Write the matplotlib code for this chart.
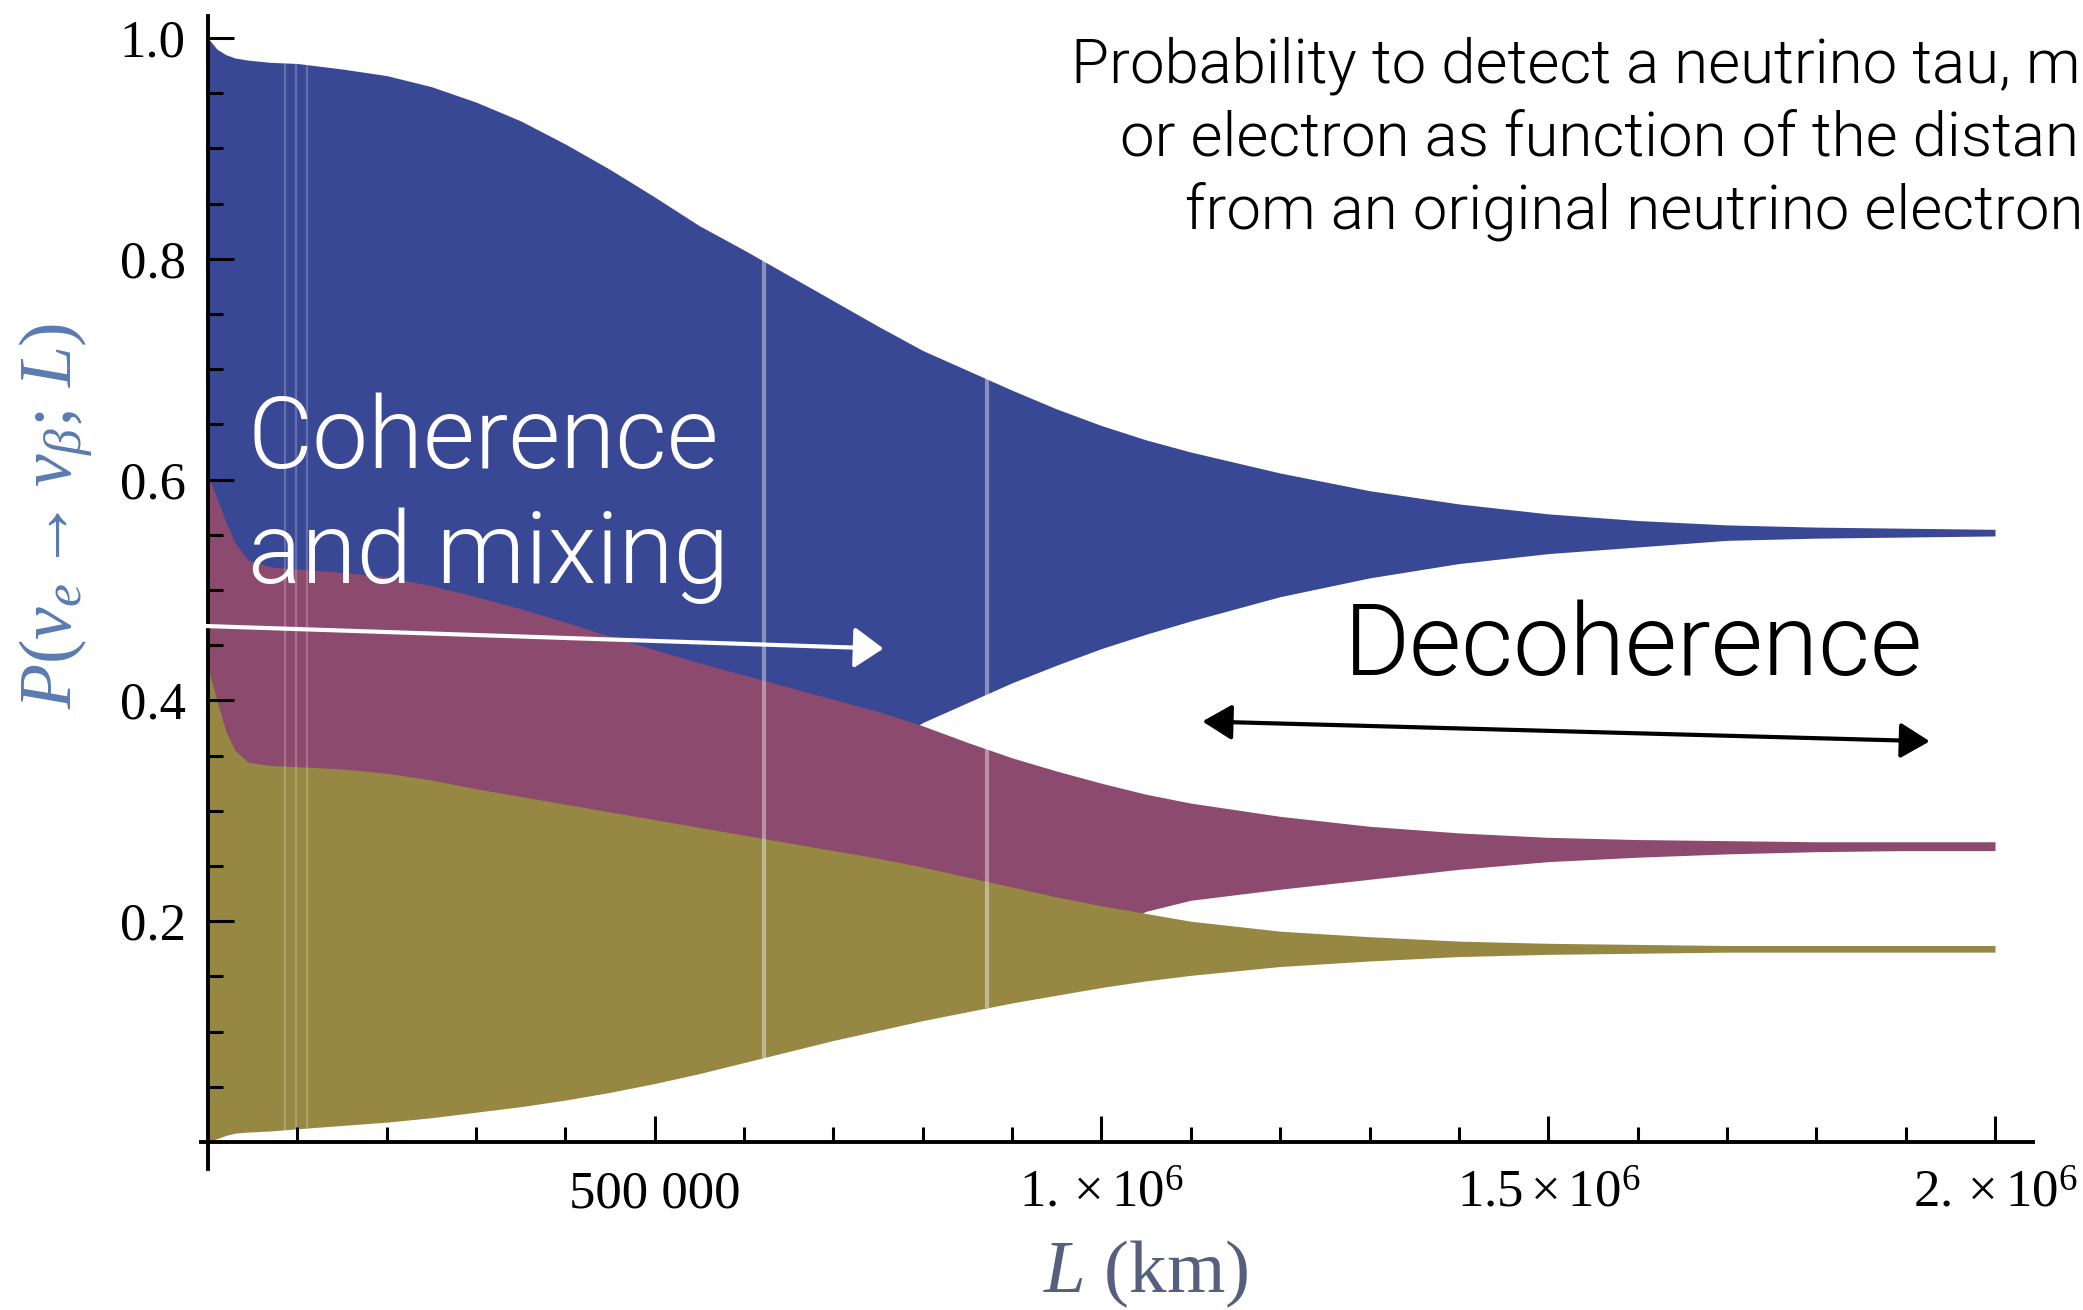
import numpy as np
import matplotlib
matplotlib.use("Agg")
import matplotlib.pyplot as plt
from matplotlib import font_manager as fm

# ---------------- data ----------------
L_km = [0, 10000, 20000, 30000, 45000, 70000, 100000, 150000, 200000, 250000,
        300000, 350000, 400000, 450000, 500000, 550000, 600000, 650000, 700000,
        750000, 800000, 850000, 900000, 950000, 1000000, 1050000, 1100000,
        1200000, 1300000, 1400000, 1500000, 1600000, 1700000, 1800000, 1900000,
        2000000]

# nu_e -> nu_e (blue) envelope
p_ee_max = [1.000, 0.990, 0.985, 0.982, 0.980, 0.978, 0.977, 0.972, 0.966, 0.956,
            0.942, 0.925, 0.904, 0.881, 0.856, 0.830, 0.808, 0.785, 0.762,
            0.739, 0.717, 0.699, 0.681, 0.664, 0.649, 0.636, 0.625,
            0.606, 0.590, 0.578, 0.569, 0.563, 0.559, 0.557, 0.556, 0.555]
p_ee_min = [0.400, 0.400, 0.400, 0.400, 0.400, 0.400, 0.400, 0.400, 0.400, 0.400,
            0.400, 0.400, 0.390, 0.380, 0.370, 0.360, 0.360, 0.355, 0.355,
            0.355, 0.380, 0.398, 0.416, 0.432, 0.447, 0.460, 0.472,
            0.494, 0.511, 0.524, 0.533, 0.539, 0.545, 0.547, 0.548, 0.549]

# nu_e -> nu_mu (purple) envelope
p_emu_max = [0.605, 0.583, 0.562, 0.543, 0.527, 0.521, 0.519, 0.516, 0.512, 0.504,
             0.494, 0.483, 0.471, 0.458, 0.446, 0.434, 0.423, 0.412, 0.401,
             0.390, 0.377, 0.362, 0.348, 0.336, 0.325, 0.315, 0.307,
             0.295, 0.286, 0.280, 0.276, 0.274, 0.273, 0.272, 0.272, 0.272]
p_emu_min = [0.150, 0.150, 0.150, 0.150, 0.150, 0.150, 0.150, 0.150, 0.150, 0.150,
             0.150, 0.150, 0.150, 0.150, 0.150, 0.150, 0.150, 0.150, 0.150,
             0.150, 0.150, 0.150, 0.150, 0.150, 0.190, 0.209, 0.219,
             0.229, 0.238, 0.247, 0.254, 0.258, 0.261, 0.263, 0.264, 0.264]

# nu_e -> nu_tau (olive) envelope
p_etau_max = [0.430, 0.400, 0.372, 0.355, 0.344, 0.341, 0.340, 0.338, 0.334, 0.328,
              0.320, 0.313, 0.306, 0.299, 0.292, 0.285, 0.278, 0.271, 0.264,
              0.257, 0.249, 0.240, 0.231, 0.222, 0.214, 0.207, 0.200,
              0.191, 0.186, 0.182, 0.180, 0.179, 0.178, 0.178, 0.178, 0.178]
p_etau_min = [0.000, 0.003, 0.006, 0.008, 0.009, 0.010, 0.012, 0.015, 0.018, 0.022,
              0.027, 0.032, 0.038, 0.045, 0.053, 0.062, 0.072, 0.082, 0.092,
              0.101, 0.110, 0.118, 0.126, 0.133, 0.140, 0.146, 0.151,
              0.159, 0.164, 0.168, 0.170, 0.171, 0.172, 0.172, 0.172, 0.172]

# faint rendering streaks visible in the original plot
streak_L_faint = [86000, 98000, 111000]
streak_L_bright = [622000, 872000]

x_major = [500000, 1000000, 1500000, 2000000]
x_major_labels = ["500 000", r"$1.\times10^{6}$", r"$1.5\times10^{6}$", r"$2.\times10^{6}$"]
y_major = [0.2, 0.4, 0.6, 0.8, 1.0]
y_major_labels = ["0.2", "0.4", "0.6", "0.8", "1.0"]

# ---------------- styling ----------------
plt.rcParams["mathtext.fontset"] = "custom"
plt.rcParams["mathtext.rm"] = "Liberation Serif"
plt.rcParams["mathtext.it"] = "Liberation Serif:italic"
plt.rcParams["mathtext.bf"] = "Liberation Serif:bold"


def _weight(f):
    w = f.weight
    if isinstance(w, str):
        w = fm.weight_dict.get(w, 400)
    return w


light_family = None
for fam in ["Roboto", "Lato", "Open Sans", "Inter", "Noto Sans"]:
    if any(f.name == fam and _weight(f) <= 300 for f in fm.fontManager.ttflist):
        light_family = fam
        break
if light_family is None:
    sans = dict(family="Liberation Sans", weight="normal")
else:
    sans = dict(family=light_family, weight=300)

c_blue = "#394894"
c_purple = "#8c4a6e"
c_olive = "#968843"

fig = plt.figure(figsize=(20.83, 13.10), dpi=100)
ax = fig.add_axes([0.0964, 0.1080, 0.8798, 0.8798])

ax.fill_between(L_km, p_ee_min, p_ee_max, color=c_blue, lw=0, zorder=1)
ax.fill_between(L_km, p_emu_min, p_emu_max, color=c_purple, lw=0, zorder=1.1)
ax.fill_between(L_km, p_etau_min, p_etau_max, color=c_olive, lw=0, zorder=1.2)

ax.vlines(streak_L_faint, np.interp(streak_L_faint, L_km, p_etau_min),
          np.interp(streak_L_faint, L_km, p_ee_max), colors="white",
          alpha=0.22, linewidth=1.6, zorder=1.5)
ax.vlines(streak_L_bright, np.interp(streak_L_bright, L_km, p_etau_min),
          np.interp(streak_L_bright, L_km, p_ee_max), colors="white",
          alpha=0.4, linewidth=3.0, zorder=1.5)

ax.set_xlim(-8000, 2043000)
ax.set_ylim(-0.024, 1.02)

for s in ["top", "right"]:
    ax.spines[s].set_visible(False)
for s in ["left", "bottom"]:
    ax.spines[s].set_position(("data", 0))
    ax.spines[s].set_linewidth(2.8)
    ax.spines[s].set_color("black")

ax.set_xticks(x_major)
ax.set_xticklabels(x_major_labels)
ax.set_yticks(y_major)
ax.set_yticklabels(y_major_labels)
ax.set_xticks([v for v in np.arange(100000, 2000001, 100000) if v % 500000 != 0], minor=True)
ax.set_yticks([round(v, 2) for v in np.arange(0.05, 1.0, 0.05) if round(v * 100) % 20 != 0], minor=True)

ax.tick_params(which="major", direction="in", length=19, width=2.2, colors="black",
               labelsize=38)
ax.tick_params(which="minor", direction="in", length=10.5, width=2.2, colors="black")
ax.tick_params(axis="y", which="major", pad=16)
ax.tick_params(axis="x", which="major", pad=47)
for lab in ax.get_xticklabels() + ax.get_yticklabels():
    lab.set_fontfamily("Liberation Serif")
for lab in ax.get_xticklabels():
    lab.set_verticalalignment("baseline")

# axis labels
fig.text(0.0265, 0.606, r"$P(\nu_e \rightarrow \nu_\beta;\, L)$", rotation=90,
         ha="center", va="center", fontsize=53, color="#5a7bb0")
fig.text(0.5502, 0.0137, r"$L\ (\mathrm{km})$", ha="center", va="baseline",
         fontsize=54, color="#55607f")

# annotations
ax.annotate("", xy=(756000, 0.447), xytext=(-6000, 0.4675),
            arrowprops=dict(arrowstyle="-|>,head_length=0.5,head_width=0.35",
                            color="white", lw=3, mutation_scale=36,
                            shrinkA=0, shrinkB=0),
            annotation_clip=False, zorder=4)
ax.annotate("", xy=(1927000, 0.363), xytext=(1113000, 0.381),
            arrowprops=dict(arrowstyle="<|-|>,head_length=0.5,head_width=0.3",
                            color="black", lw=3, mutation_scale=36,
                            shrinkA=0, shrinkB=0),
            zorder=4)

ax.text(44600, 0.611, "Coherence", color="white", fontsize=72, ha="left",
        va="baseline", zorder=5, **sans)
ax.text(44600, 0.506, "and mixing", color="white", fontsize=72, ha="left",
        va="baseline", zorder=5, **sans)
ax.text(1271000, 0.423, "Decoherence", color="black", fontsize=72.5, ha="left",
        va="baseline", zorder=5, **sans)

fig.text(0.514, 0.937, "Probability to detect a neutrino tau, m", fontsize=44.5,
         color="black", ha="left", va="baseline", **sans)
fig.text(0.5377, 0.8815, "or electron as function of the distan", fontsize=44.5,
         color="black", ha="left", va="baseline", **sans)
fig.text(0.569, 0.8256, "from an original neutrino electron", fontsize=44.5,
         color="black", ha="left", va="baseline", **sans)

fig.savefig("out.png", dpi=100)
